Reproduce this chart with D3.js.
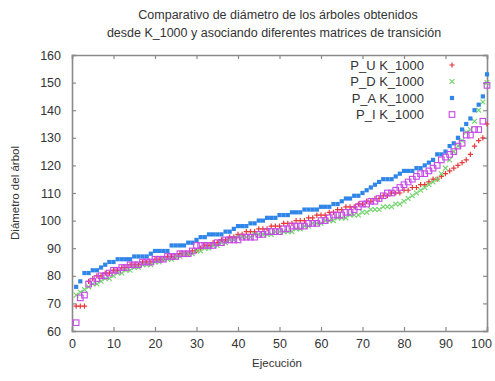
<!DOCTYPE html>
<html><head><meta charset="utf-8">
<script src="https://cdn.jsdelivr.net/npm/d3@7/dist/d3.min.js"></script>
<style>body{margin:0;background:#fff}svg{display:block}text{font-family:"Liberation Sans",Arial,sans-serif;fill:#333}</style>
</head><body>
<script>
const titleLines = ["Comparativo de diámetro de los árboles obtenidos", "desde K_1000 y asociando diferentes matrices de transición"];
const xLabel = "Ejecución";
const yLabel = "Diámetro del árbol";
const xTicks = [0,10,20,30,40,50,60,70,80,90,100];
const yTicks = [60,70,80,90,100,110,120,130,140,150,160];
const seriesNames = ["P_U K_1000","P_D K_1000","P_A K_1000","P_I K_1000"];
const seriesColors = ["#e8383a","#6fd46a","#2f86e8","#c648e6"];
const seriesShapes = ["plus","cross","filled","open"];
const ejecucion = d3.range(1,101);
const pU = [69,69,69,78,79,80,80,81,81,82,82,83,83,84,84,84,85,85,85,86,86,86,87,87,87,88,88,88,89,89,90,91,91,92,92,93,93,94,94,95,95,96,96,96,97,97,97,98,98,98,99,99,99,100,100,100,101,101,102,102,102,103,103,104,104,105,105,105,106,106,107,107,108,108,109,109,110,110,110,111,111,112,112,113,113,114,115,115,116,117,118,119,120,121,122,124,127,129,130,135];
const pD = [73,74,75,76,77,77,78,79,79,80,81,81,82,82,83,83,84,84,84,85,85,86,86,86,87,87,88,88,88,89,89,90,90,91,91,92,92,93,93,94,94,94,94,95,95,95,95,95,96,96,96,96,96,97,97,98,98,99,99,99,100,100,100,101,101,101,102,102,102,103,103,104,104,104,105,105,105,106,106,107,108,109,110,111,112,113,114,115,117,119,122,125,127,129,132,133,136,140,143,150];
const pA = [76,78,81,81,82,82,83,84,85,85,86,86,86,86,87,87,87,87,88,89,89,89,89,91,91,91,91,92,92,93,94,94,95,95,95,95,96,96,97,98,98,98,99,99,100,100,101,101,101,102,102,102,103,103,103,104,104,104,104,105,105,105,106,106,107,108,108,109,109,110,111,112,113,114,115,115,115,116,117,118,118,118,119,119,120,121,122,124,124,125,127,128,130,133,135,137,140,142,145,153];
const pI = [63,72,73,77,78,79,80,80,81,82,82,83,83,84,84,84,85,85,85,86,86,86,87,87,87,88,88,88,89,91,91,91,91,91,92,92,93,93,93,93,94,94,94,94,95,95,96,96,96,96,97,97,98,98,98,98,99,99,99,100,100,101,102,102,102,103,103,104,105,106,106,107,107,108,109,110,110,111,112,113,114,115,116,117,117,118,119,120,122,123,124,125,127,128,131,131,133,133,136,149];
const seriesValues = [pU,pD,pA,pI];

const W=495,H=381;
const m={l:72,r:8,t:55,b:50};
const svg=d3.select("body").append("svg").attr("width",W).attr("height",H);
const x=d3.scaleLinear().domain([0,100]).range([m.l,W-m.r]);
const y=d3.scaleLinear().domain([60,160]).range([H-m.b,m.t]);

// title
svg.selectAll(".title").data(titleLines).enter().append("text")
  .attr("x",(d,i)=>i?274:278).attr("y",(d,i)=>19+i*18).attr("text-anchor","middle")
  .attr("font-size",12.5).text(d=>d);

const grey="#8a8a8a";
const fmt=d3.format("d");
const gB=svg.append("g").attr("transform",`translate(0,${y(60)})`).call(d3.axisBottom(x).tickValues(xTicks).tickSize(-4).tickPadding(8).tickFormat(fmt));
const gT=svg.append("g").attr("transform",`translate(0,${y(160)})`).call(d3.axisTop(x).tickValues(xTicks).tickSize(-4).tickFormat(""));
const gL=svg.append("g").attr("transform",`translate(${x(0)},0)`).call(d3.axisLeft(y).tickValues(yTicks).tickSize(-4).tickPadding(11).tickFormat(fmt));
const gR=svg.append("g").attr("transform",`translate(${x(100)},0)`).call(d3.axisRight(y).tickValues(yTicks).tickSize(-4).tickFormat(""));
[gB,gT,gL,gR].forEach(g=>{
  g.select(".domain").attr("stroke",grey).attr("stroke-width",1.6);
  g.selectAll(".tick line").attr("stroke",grey).attr("stroke-width",1.2);
  g.selectAll(".tick text").attr("font-size",12.5).attr("fill","#444").attr("font-family","Liberation Sans, Arial, sans-serif");
});
gB.selectAll(".tick text").attr("dy","0.71em");
gB.selectAll(".tick text").filter(d=>d===100).attr("dx",-6);

svg.append("text").attr("x",277).attr("y",367).attr("text-anchor","middle").attr("font-size",11.5).text(xLabel);
svg.append("text").attr("transform",`translate(19,${y(110)}) rotate(-90)`).attr("text-anchor","middle").attr("font-size",11.5).text(yLabel);

function drawMarker(g,shape,color,cx,cy){
  if(shape==="plus"){
    g.append("path").attr("d",`M${cx-2.6},${cy}H${cx+2.6}M${cx},${cy-2.6}V${cy+2.6}`).attr("stroke",color).attr("stroke-width",1.2).attr("fill","none");
  } else if(shape==="cross"){
    g.append("path").attr("d",`M${cx-2.4},${cy-2.4}L${cx+2.4},${cy+2.4}M${cx-2.4},${cy+2.4}L${cx+2.4},${cy-2.4}`).attr("stroke",color).attr("stroke-width",1.1).attr("fill","none");
  } else if(shape==="filled"){
    g.append("rect").attr("x",cx-2.1).attr("y",cy-2.1).attr("width",4.2).attr("height",4.2).attr("fill",color);
  } else {
    g.append("rect").attr("x",cx-2.8).attr("y",cy-2.8).attr("width",5.6).attr("height",5.6).attr("fill","none").attr("stroke",color).attr("stroke-width",1.1);
  }
}

const plot=svg.append("g");
seriesValues.forEach((vals,s)=>{
  const g=plot.append("g");
  vals.forEach((v,i)=>drawMarker(g,seriesShapes[s],seriesColors[s],x(ejecucion[i]),y(v)));
});

// legend
const lg=svg.append("g");
seriesNames.forEach((n,i)=>{
  const yy=65+i*16.5;
  lg.append("text").attr("x",424).attr("y",yy).attr("dy","0.35em").attr("text-anchor","end").attr("font-size",13).attr("fill","#333").text(n);
  drawMarker(lg,seriesShapes[i],seriesColors[i],452,yy);
});
</script>
</body></html>
